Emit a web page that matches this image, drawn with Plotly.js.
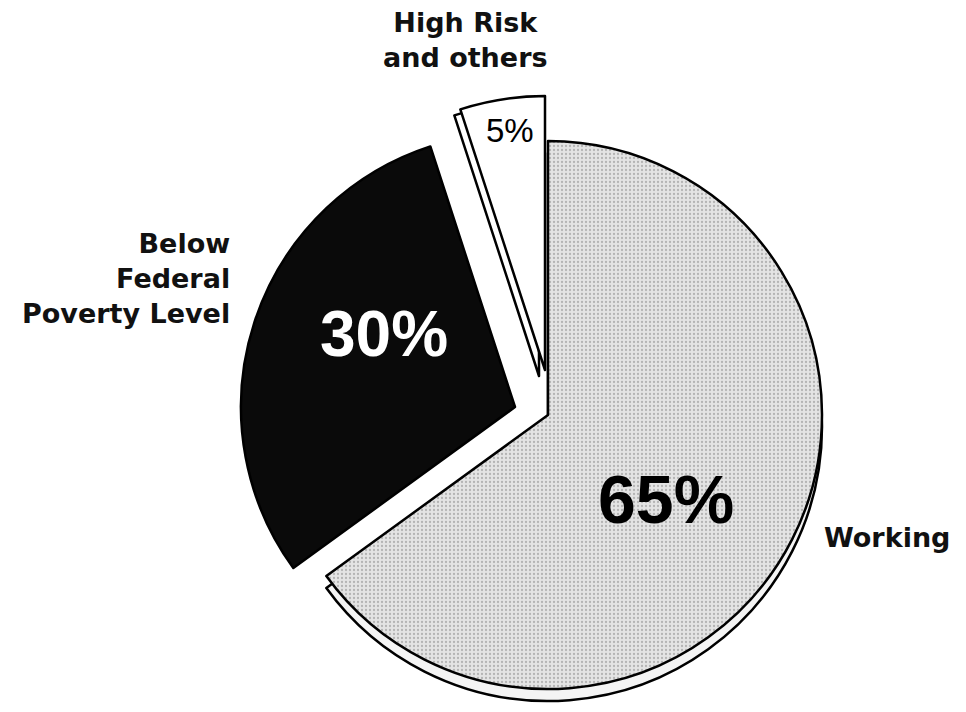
<!DOCTYPE html>
<html>
<head>
<meta charset="utf-8">
<script src="https://cdn.plot.ly/plotly-3.0.1.min.js"></script>
<style>html,body{margin:0;padding:0;background:#fff;overflow:hidden;}</style>
</head>
<body>
<div id="chart" style="width:966px;height:712px;"></div>
<script>
// Data
var categories = ["Working", "Below Federal Poverty Level", "High Risk and others"];
var values = [65, 30, 5];
var labelText = ["Working", "Below<br>Federal<br>Poverty Level", "High Risk<br>and others"];

// Styles
var sliceColors = ["#dadada", "#0a0a0a", "#ffffff"];
var pctColors = ["#000000", "#ffffff", "#000000"];
var W = 966, H = 712;
var R = 274;                 // pie radius in px
var center = [548, 415];     // centre of the un-pulled slice
// exploded offsets (px) of each slice, [dx, dy] screen
var offsets = [[0, 0], [-33, -8], [-3, -45]];
// 3D rim offsets (px) below slices
var rimOffsets = [[0, 12], null, [-6, 6]];

function domainAt(cx, cy) {
  return {x: [(cx - R) / W, (cx + R) / W], y: [1 - (cy + R) / H, 1 - (cy - R) / H]};
}
function onlySlice(i, arr, other) {
  return arr.map(function (c, j) { return j === i ? c : other; });
}
var clear = "rgba(0,0,0,0)";

var traces = [];
// 3D rim under the big slice and the small slice
[0, 2].forEach(function (i) {
  traces.push({
    type: "pie", labels: categories, values: values, sort: false,
    direction: "clockwise", rotation: 0,
    domain: domainAt(center[0] + offsets[i][0] + rimOffsets[i][0], center[1] + offsets[i][1] + rimOffsets[i][1]),
    textinfo: "none", hoverinfo: "skip", showlegend: false,
    marker: {colors: onlySlice(i, ["#f4f4f4", "#0a0a0a", "#ffffff"], clear),
             line: {color: onlySlice(i, ["#000", "#000", "#000"], clear), width: 2.5}}
  });
});
// the slices themselves, each exploded by its own offset
[0, 1, 2].forEach(function (i) {
  var m = {colors: onlySlice(i, sliceColors, clear),
           line: {color: onlySlice(i, ["#000", "#000", "#000"], clear), width: 2.5}};
  if (i === 0) {
    m.pattern = {shape: onlySlice(0, [".", "", ""], ""), fgcolor: "#b4b4b4", bgcolor: "#e4e4e4",
                 size: 4, solidity: 0.25, fillmode: "replace"};
  }
  traces.push({
    type: "pie", labels: categories, values: values, sort: false,
    direction: "clockwise", rotation: 0,
    domain: domainAt(center[0] + offsets[i][0], center[1] + offsets[i][1]),
    textinfo: "none", hoverinfo: "label+percent", showlegend: false,
    marker: m
  });
});

var lblFont = {family: "DejaVu Sans, Verdana, sans-serif", size: 27, color: "#111", weight: "bold"};
var pctFontBig = {family: "Liberation Sans, Arial, sans-serif", size: 66, weight: "bold"};
var annotations = [
  {x: 822 / W, y: 1 - 537 / H, xanchor: "left", yanchor: "middle", text: labelText[0], font: lblFont},
  {x: 232 / W, y: 1 - 279 / H, xanchor: "right", yanchor: "middle", align: "right", text: labelText[1], font: lblFont},
  {x: 465 / W, y: 1 - 40 / H, xanchor: "center", yanchor: "middle", align: "center", text: labelText[2], font: lblFont},
  {x: 666 / W, y: 1 - 499 / H, xanchor: "center", yanchor: "middle", text: values[0] + "%",
   font: Object.assign({}, pctFontBig, {color: pctColors[0], size: 68})},
  {x: 384 / W, y: 1 - 334 / H, xanchor: "center", yanchor: "middle", text: values[1] + "%",
   font: Object.assign({}, pctFontBig, {color: pctColors[1], size: 64})},
  {x: 510 / W, y: 1 - 131 / H, xanchor: "center", yanchor: "middle", text: values[2] + "%",
   font: {family: "Liberation Sans, Arial, sans-serif", size: 33, color: pctColors[2]}}
].map(function (a) { a.xref = "paper"; a.yref = "paper"; a.showarrow = false; return a; });

var layout = {
  width: W, height: H,
  margin: {l: 0, r: 0, t: 0, b: 0},
  paper_bgcolor: "#ffffff",
  showlegend: false,
  annotations: annotations
};

Plotly.newPlot("chart", traces, layout, {displayModeBar: false, staticPlot: true});
</script>
</body>
</html>
